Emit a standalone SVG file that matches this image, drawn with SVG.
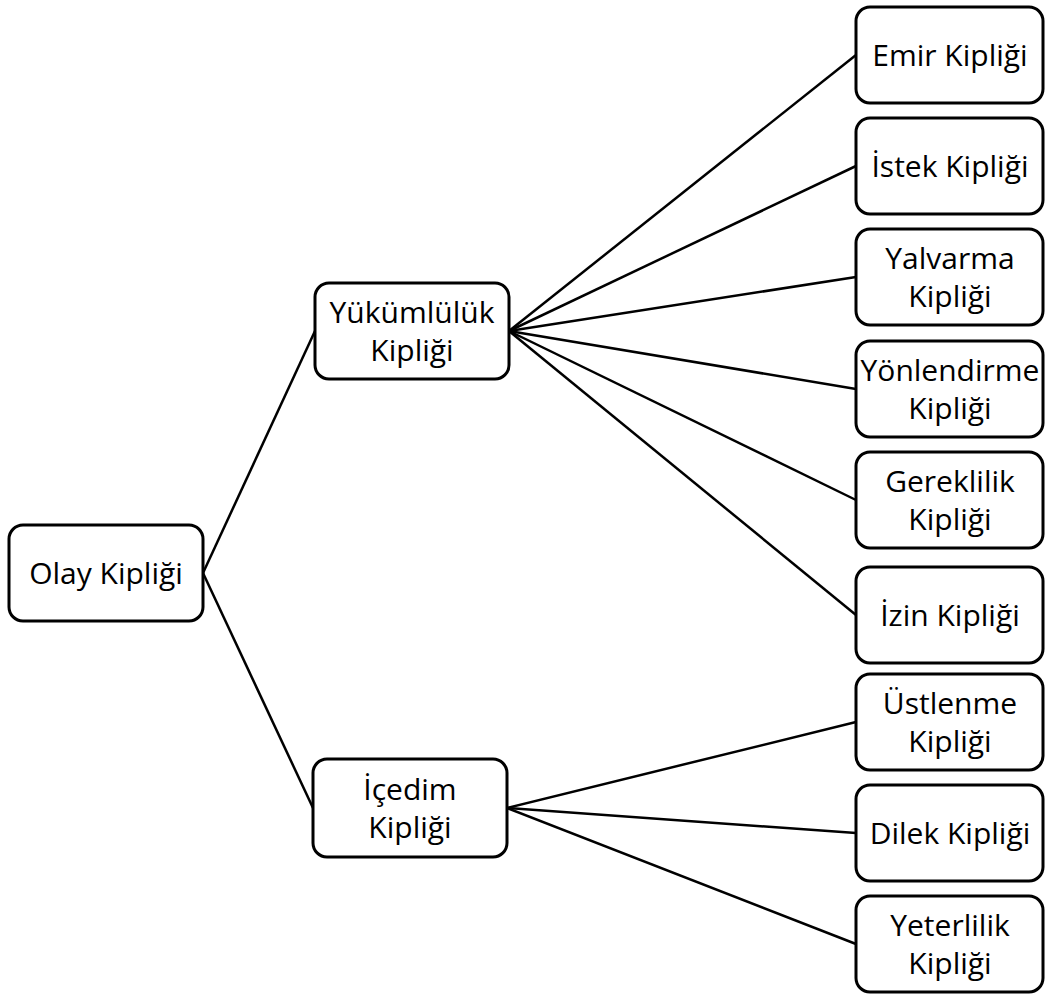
<svg xmlns="http://www.w3.org/2000/svg" width="1045" height="994" viewBox="0 0 1045 994">
<style>
.box{fill:#fff;stroke:#000;stroke-width:3}
.t{font-family:"Open Sans","Noto Sans",sans-serif;font-size:30px;fill:#000;text-anchor:middle}
.c line{stroke:#000;stroke-width:2.5}
</style>
<rect width="1045" height="994" fill="#fff"/>
<g class="c" id="connectors">
<line x1="203" y1="573" x2="315" y2="331"/>
<line x1="203" y1="573" x2="313" y2="808"/>
<line x1="509" y1="331" x2="856" y2="55"/>
<line x1="509" y1="331" x2="856" y2="166"/>
<line x1="509" y1="331" x2="856" y2="277"/>
<line x1="509" y1="331" x2="856" y2="389"/>
<line x1="509" y1="331" x2="856" y2="500"/>
<line x1="509" y1="331" x2="856" y2="615"/>
<line x1="507" y1="808" x2="856" y2="722"/>
<line x1="507" y1="808" x2="856" y2="833"/>
<line x1="507" y1="808" x2="856" y2="944"/>
</g>
<g id="olay"><rect class="box" x="9" y="525" width="194" height="96" rx="14"/><text class="t" x="106" y="584">Olay Kipliği</text></g>
<g id="yukumluluk"><rect class="box" x="315" y="283" width="194" height="96" rx="14"/><text class="t" x="412" y="323">Yükümlülük</text><text class="t" x="412" y="361">Kipliği</text></g>
<g id="icedim"><rect class="box" x="313" y="759" width="194" height="98" rx="14"/><text class="t" x="410" y="800">İçedim</text><text class="t" x="410" y="838">Kipliği</text></g>
<g id="emir"><rect class="box" x="856" y="7" width="187" height="96" rx="14"/><text class="t" x="950" y="66">Emir Kipliği</text></g>
<g id="istek"><rect class="box" x="856" y="118" width="187" height="96" rx="14"/><text class="t" x="950" y="177">İstek Kipliği</text></g>
<g id="yalvarma"><rect class="box" x="856" y="229" width="187" height="96" rx="14"/><text class="t" x="950" y="269">Yalvarma</text><text class="t" x="950" y="307">Kipliği</text></g>
<g id="yonlendirme"><rect class="box" x="856" y="341" width="187" height="96" rx="14"/><text class="t" x="950" y="381">Yönlendirme</text><text class="t" x="950" y="419">Kipliği</text></g>
<g id="gereklilik"><rect class="box" x="856" y="452" width="187" height="96" rx="14"/><text class="t" x="950" y="492">Gereklilik</text><text class="t" x="950" y="530">Kipliği</text></g>
<g id="izin"><rect class="box" x="856" y="567" width="187" height="96" rx="14"/><text class="t" x="950" y="626">İzin Kipliği</text></g>
<g id="ustlenme"><rect class="box" x="856" y="674" width="187" height="96" rx="14"/><text class="t" x="950" y="714">Üstlenme</text><text class="t" x="950" y="752">Kipliği</text></g>
<g id="dilek"><rect class="box" x="856" y="785" width="187" height="96" rx="14"/><text class="t" x="950" y="844">Dilek Kipliği</text></g>
<g id="yeterlilik"><rect class="box" x="856" y="896" width="187" height="96" rx="14"/><text class="t" x="950" y="936">Yeterlilik</text><text class="t" x="950" y="974">Kipliği</text></g>
</svg>
